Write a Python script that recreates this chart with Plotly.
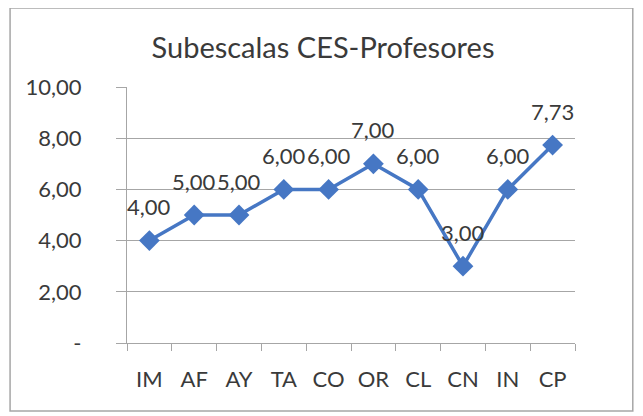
import plotly.graph_objects as go

categories = ["IM", "AF", "AY", "TA", "CO", "OR", "CL", "CN", "IN", "CP"]
values = [4.00, 5.00, 5.00, 6.00, 6.00, 7.00, 6.00, 3.00, 6.00, 7.73]
ytick_vals = [0, 2, 4, 6, 8, 10]
ytick_text = ["-", "2,00", "4,00", "6,00", "8,00", "10,00"]
title_text = "Subescalas CES-Profesores"

labels = [f"{v:.2f}".replace(".", ",") for v in values]
color = "#4677C4"
txt = "#3a3a3a"
font = "Lato"

fig = go.Figure()
fig.add_trace(go.Scatter(
    x=categories, y=values,
    mode="lines+markers",
    line=dict(color=color, width=3.5),
    marker=dict(symbol="diamond", size=16, color=color),
    showlegend=False,
))
for c, v, lab in zip(categories, values, labels):
    fig.add_annotation(x=c, y=v, text=lab, showarrow=False, yshift=34,
                       xanchor="center", yanchor="middle",
                       font=dict(family=font, size=22, color=txt))

fig.update_layout(
    width=643, height=416,
    margin=dict(l=119, r=76, t=79, b=81),
    paper_bgcolor="white", plot_bgcolor="white",
    title=dict(text=title_text, x=(323 - 8) / 643, xanchor="center",
               y=1 - 40 / 416, yanchor="middle",
               font=dict(family=font, size=29, color=txt)),
    font=dict(family=font, size=22, color=txt),
    shapes=[dict(type="rect", xref="paper", yref="paper",
                 x0=-0.261, x1=1.129, y0=-0.266, y1=1.309,
                 line=dict(color="#a6a6a6", width=1.5))],
)
fig.update_xaxes(
    type="category", automargin=False,
    range=[-0.5, len(categories) - 0.5],
    showgrid=False, showline=True, linecolor="#a6a6a6", linewidth=1.2,
    ticks="outside", tickson="boundaries", ticklen=7, tickcolor="#a6a6a6",
    ticklabelstandoff=16,
    tickfont=dict(family=font, size=22, color=txt),
    zeroline=False,
)
fig.update_yaxes(
    range=[0, 10], tickvals=ytick_vals, ticktext=ytick_text, automargin=False,
    showgrid=True, gridcolor="#a6a6a6", gridwidth=1.2,
    showline=True, linecolor="#a6a6a6", linewidth=1.2,
    ticks="outside", ticklen=10, tickcolor="#a6a6a6",
    ticklabelstandoff=30,
    tickfont=dict(family=font, size=22, color=txt),
    zeroline=False,
)

fig.write_html("out.html")
